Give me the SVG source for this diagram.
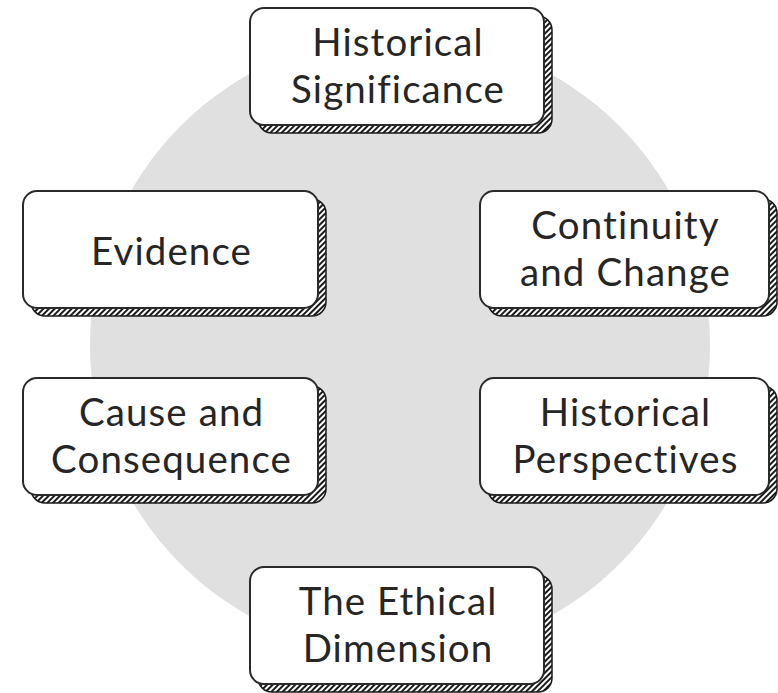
<svg xmlns="http://www.w3.org/2000/svg" width="778" height="693" viewBox="0 0 778 693">
<defs>
<pattern id="hatch" patternUnits="userSpaceOnUse" width="4" height="4" patternTransform="rotate(45)">
<rect width="4" height="4" fill="#ffffff"/>
<rect width="2" height="4" fill="#1a1a1a"/>
</pattern>
</defs>
<style>
.shadow{fill:url(#hatch);stroke:#1a1a1a;stroke-width:1.5}
.box{fill:#ffffff;stroke:#2a2a2a;stroke-width:2}
.lbl{font-family:Lato,"Open Sans","Liberation Sans",sans-serif;font-size:38.5px;font-weight:400;letter-spacing:1.1px;fill:#262626;text-anchor:middle}
</style>
<rect width="778" height="693" fill="#ffffff"/>
<circle cx="400" cy="345" r="310" fill="#e0e0e0"/>
<g id="connectors"></g>
<g id="historical-significance">
<rect class="shadow" x="258" y="16" width="294" height="117" rx="14"/>
<rect class="box" x="250" y="8" width="294" height="117" rx="14"/>
<text class="lbl" x="398" y="56">Historical</text>
<text class="lbl" x="398" y="103">Significance</text>
</g>
<g id="evidence">
<rect class="shadow" x="31" y="199" width="295" height="117" rx="14"/>
<rect class="box" x="23" y="191" width="295" height="117" rx="14"/>
<text class="lbl" x="171.5" y="265">Evidence</text>
</g>
<g id="continuity-and-change">
<rect class="shadow" x="488" y="199" width="289" height="117" rx="14"/>
<rect class="box" x="480" y="191" width="289" height="117" rx="14"/>
<text class="lbl" x="625.5" y="239">Continuity</text>
<text class="lbl" x="625.5" y="286">and Change</text>
</g>
<g id="cause-and-consequence">
<rect class="shadow" x="31" y="386" width="295" height="117" rx="14"/>
<rect class="box" x="23" y="378" width="295" height="117" rx="14"/>
<text class="lbl" x="171.5" y="426">Cause and</text>
<text class="lbl" x="171.5" y="473">Consequence</text>
</g>
<g id="historical-perspectives">
<rect class="shadow" x="488" y="386" width="289" height="117" rx="14"/>
<rect class="box" x="480" y="378" width="289" height="117" rx="14"/>
<text class="lbl" x="625.5" y="426">Historical</text>
<text class="lbl" x="625.5" y="473">Perspectives</text>
</g>
<g id="the-ethical-dimension">
<rect class="shadow" x="258" y="575" width="294" height="117" rx="14"/>
<rect class="box" x="250" y="567" width="294" height="117" rx="14"/>
<text class="lbl" x="398" y="615">The Ethical</text>
<text class="lbl" x="398" y="662">Dimension</text>
</g>
</svg>
